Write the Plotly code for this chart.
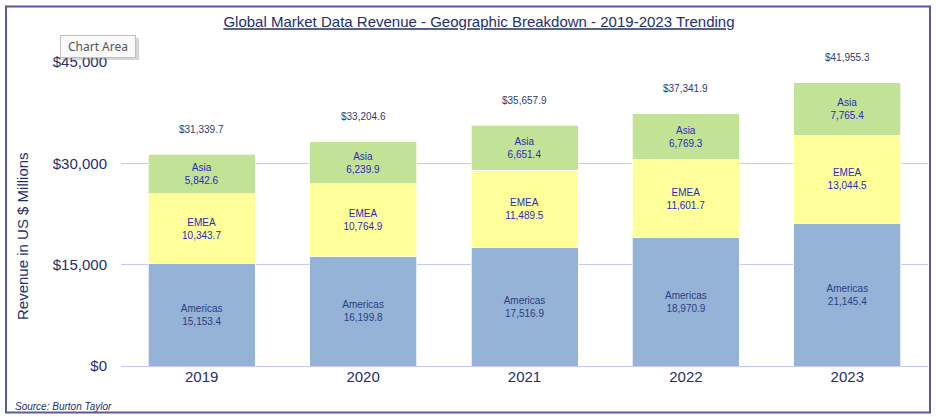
import plotly.graph_objects as go

years = ["2019", "2020", "2021", "2022", "2023"]
americas = [15153.4, 16199.8, 17516.9, 18970.9, 21145.4]
emea = [10343.7, 10764.9, 11489.5, 11601.7, 13044.5]
asia = [5842.6, 6239.9, 6651.4, 6769.3, 7765.4]
totals = [31339.7, 33204.6, 35657.9, 37341.9, 41955.3]
y_ticks = [0, 15000, 30000, 45000]
y_tick_labels = ["$0", "$15,000", "$30,000", "$45,000"]

W, H = 936, 417
L, R, T, B = 121, 8, 62, 51
PW, PH = W - L - R, H - T - B


def px(x):
    return (x - L) / PW


def py(y):
    return (H - B - y) / PH


FONT = "Arial, Liberation Sans, sans-serif"
NAVY = "#1F3068"
BLUE = "#2B2BBE"

fig = go.Figure()


def seg(name, vals, color, tcolor):
    fig.add_trace(go.Bar(
        x=years, y=vals, name=name,
        marker=dict(color=color, line=dict(color="rgba(255,255,255,0.7)", width=1)),
        text=[f"{name}<br>{v:,.1f}" for v in vals],
        textposition="inside", insidetextanchor="middle",
        textfont=dict(family=FONT, size=10, color=tcolor),
        textangle=0, hoverinfo="skip",
    ))


seg("Americas", americas, "#95B3D7", "#2E3C80")
seg("EMEA", emea, "#FFFF99", BLUE)
seg("Asia", asia, "#C2E296", BLUE)

# total labels above each stack (x given as category index)
for i, t in enumerate(totals):
    fig.add_annotation(x=i, y=t, xref="x", yref="y", text=f"${t:,.1f}",
                       showarrow=False, yshift=25, yanchor="middle", xanchor="center",
                       font=dict(family=FONT, size=10, color="#2E3C70"))

fig.update_layout(
    width=W, height=H, barmode="stack", bargap=0.337,
    margin=dict(l=L, r=R, t=T, b=B, autoexpand=False),
    paper_bgcolor="white", plot_bgcolor="white", showlegend=False,
    uniformtext=dict(minsize=10, mode="show"),
    title=dict(text="Global Market Data Revenue - Geographic Breakdown - 2019-2023 Trending",
               x=479 / W, xanchor="center", y=1 - 22 / H, yanchor="middle",
               font=dict(family=FONT, size=15, color=NAVY, lineposition="under")),
    xaxis=dict(type="category", categoryorder="array", categoryarray=years,
               range=[-0.5, len(years) - 0.5],
               showgrid=False, showline=False, ticks="",
               tickfont=dict(family=FONT, size=15, color=NAVY)),
    yaxis=dict(range=[0, 45000], tickvals=y_ticks, ticktext=y_tick_labels,
               showgrid=True, gridcolor="#C8C8F2", gridwidth=1,
               zeroline=True, zerolinecolor="#C8C8F2", zerolinewidth=1,
               showline=False, ticks="", ticklabelstandoff=13,
               tickfont=dict(family=FONT, size=15, color=NAVY)),
)

fig.add_annotation(xref="paper", yref="paper", x=px(22), y=py(236),
                   xanchor="center", yanchor="middle",
                   text="Revenue in US $ Millions", textangle=-90, showarrow=False,
                   font=dict(family=FONT, size=15, color=NAVY))
fig.add_annotation(xref="paper", yref="paper", x=px(13), y=py(406), xanchor="left",
                   yanchor="middle", text="<i>Source: Burton Taylor</i>", showarrow=False,
                   font=dict(family=FONT, size=10, color=NAVY))
# outer chart-area border
fig.add_shape(type="rect", xref="paper", yref="paper",
              x0=px(6), x1=px(930), y0=py(412.5), y1=py(6.5),
              line=dict(color="#5B5B9B", width=2), layer="above")
# "Chart Area" tooltip shadow + box
fig.add_shape(type="rect", xref="paper", yref="paper",
              x0=px(62), x1=px(139), y0=py(60), y1=py(38),
              line=dict(width=0), fillcolor="rgba(120,120,120,0.30)", layer="above")
fig.add_annotation(xref="paper", yref="paper", x=px(98), y=py(46.5),
                   xanchor="center", yanchor="middle",
                   text="Chart Area", showarrow=False, bgcolor="#FAFAFA",
                   bordercolor="#C0C0C0", borderwidth=1, borderpad=2, width=70,
                   font=dict(family="Noto Sans, sans-serif", size=12, color="#555555"))

fig.write_html("out.html", config={"displayModeBar": False},
               post_script="document.body.style.margin='0';document.body.style.overflow='hidden';")
